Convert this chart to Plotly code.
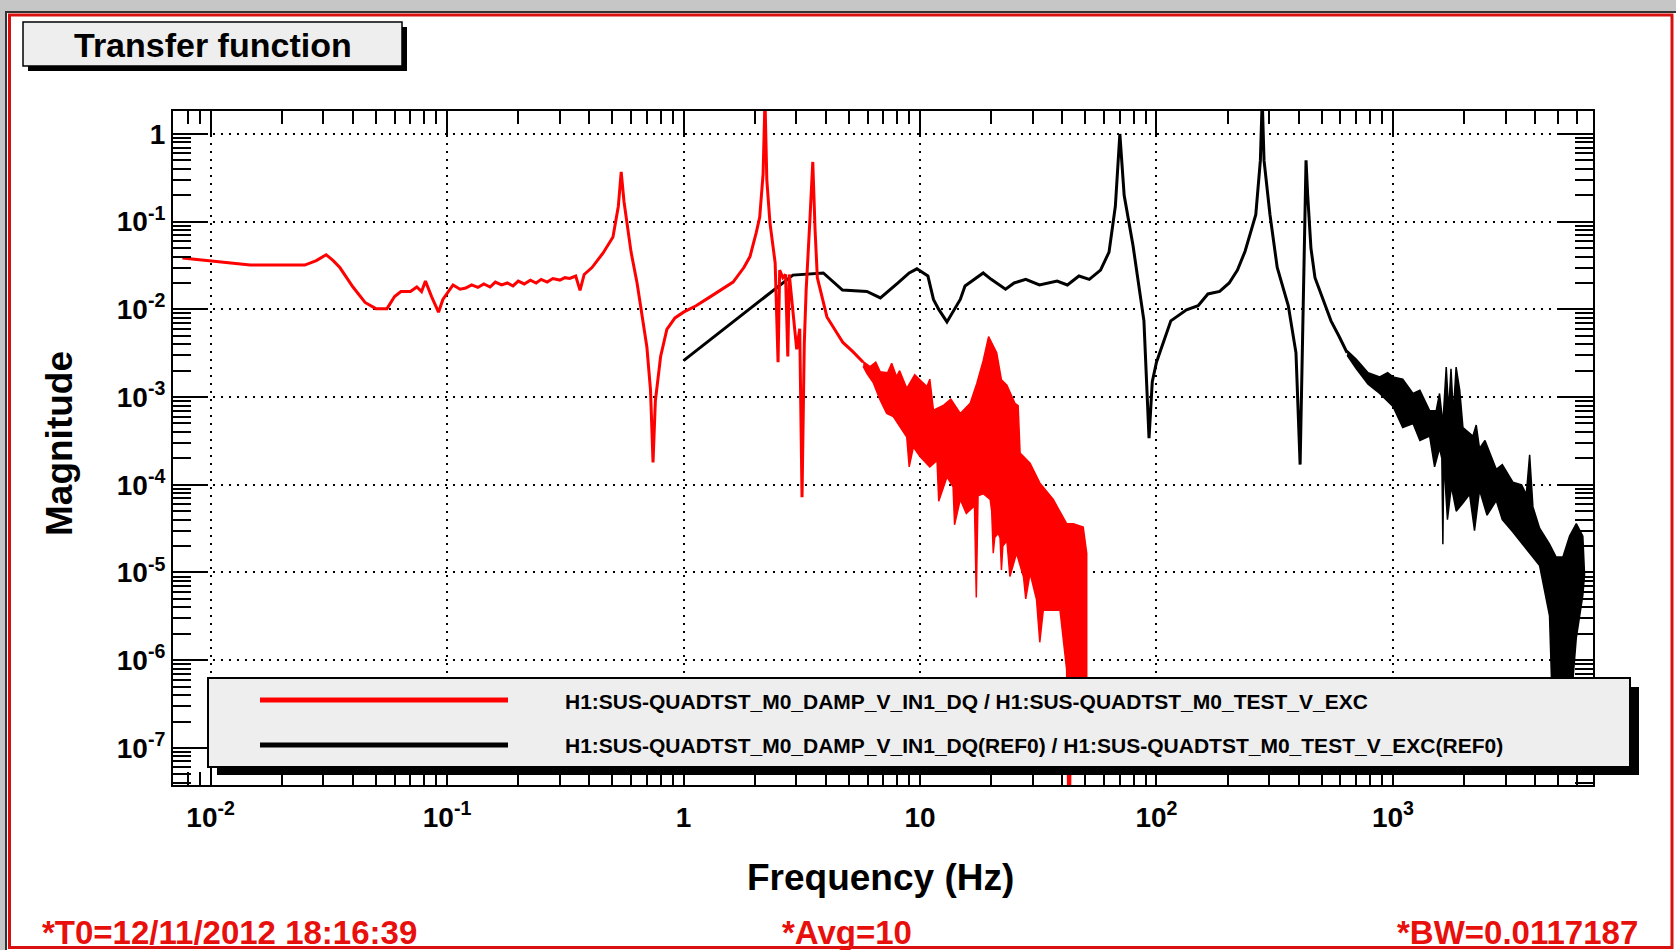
import plotly.graph_objects as go

# ---------------- data ----------------
red_freq = [0.0076, 0.0095, 0.012, 0.0147, 0.020, 0.025, 0.028, 0.0308, 0.033, 0.0352,
            0.040, 0.045, 0.050, 0.0557, 0.060, 0.0638, 0.070, 0.0745, 0.078, 0.081,
            0.086, 0.092, 0.096, 0.100, 0.106, 0.1135, 0.120, 0.127, 0.135, 0.143,
            0.152, 0.160, 0.170, 0.180, 0.190, 0.200, 0.212, 0.225, 0.238, 0.250,
            0.265, 0.280, 0.300, 0.315, 0.330, 0.350, 0.365, 0.380, 0.410, 0.457,
            0.503, 0.530, 0.545, 0.560, 0.577, 0.600, 0.636, 0.670, 0.700, 0.725,
            0.743, 0.760, 0.800, 0.850, 0.920, 1.00, 1.13, 1.29, 1.45, 1.62,
            1.80, 1.91, 2.03, 2.10, 2.17, 2.21, 2.25, 2.32, 2.44, 2.51,
            2.55, 2.63, 2.70, 2.76, 2.80, 2.90, 3.01, 3.10, 3.17, 3.24,
            3.30, 3.42, 3.52, 3.60, 3.68, 4.04, 4.72, 5.20, 5.75]
red_mag = [0.0385, 0.036, 0.034, 0.032, 0.032, 0.032, 0.036, 0.042, 0.036, 0.030,
           0.018, 0.012, 0.0102, 0.0102, 0.014, 0.016, 0.016, 0.018, 0.016, 0.021,
           0.014, 0.0093, 0.013, 0.015, 0.019, 0.017, 0.0175, 0.019, 0.0178, 0.0195,
           0.018, 0.0205, 0.019, 0.020, 0.0185, 0.021, 0.0195, 0.0215, 0.020, 0.022,
           0.0205, 0.0225, 0.0216, 0.023, 0.0225, 0.024, 0.0165, 0.025, 0.030, 0.044,
           0.067, 0.15, 0.37, 0.17, 0.097, 0.045, 0.020, 0.008, 0.0037, 0.0012,
           0.00018, 0.0009, 0.0029, 0.0059, 0.0080, 0.0093, 0.011, 0.0138, 0.017, 0.0205,
           0.030, 0.040, 0.075, 0.113, 0.35, 2.5, 0.30, 0.097, 0.034, 0.0025,
           0.028, 0.023, 0.025, 0.0029, 0.025, 0.010, 0.0035, 0.006, 0.000072, 0.004,
           0.0166, 0.10, 0.48, 0.08, 0.023, 0.0082, 0.0042, 0.0033, 0.0025]

# noisy red region: upper edge (low -> high f) and lower edge (high -> low f)
red_band_upper_freq = [5.75, 6.15, 6.5, 6.78, 7.3, 7.59, 7.96, 8.2, 8.79, 9.5,
                       10.0, 10.7, 11.0, 11.4, 12.6, 13.5, 14.8, 16.3, 17.4, 18.5,
                       19.5, 20.2, 21.1, 22.1, 23.3, 25.2, 26.0, 26.5, 29.2, 32.1,
                       36.6, 41.7, 44.5, 49.0, 50.7]
red_band_upper_mag = [2.54e-3, 2.22e-3, 2.5e-3, 1.95e-3, 1.9e-3, 2.43e-3, 1.71e-3, 2.0e-3, 1.26e-3, 1.8e-3,
                      1.57e-3, 1.32e-3, 1.6e-3, 7.1e-4, 8.1e-4, 9.5e-4, 6.5e-4, 8.5e-4, 1.44e-3, 2.6e-3,
                      4.9e-3, 4.0e-3, 3.2e-3, 1.57e-3, 1.37e-3, 8.5e-4, 8.0e-4, 2.3e-4, 1.76e-4, 1.05e-4,
                      6.8e-5, 3.6e-5, 3.6e-5, 3.3e-5, 1.66e-5]
red_band_lower_freq = [50.7, 48.0, 43.6, 43.1, 42.3, 41.7, 39.1, 33.2, 32.1, 31.1,
                       29.2, 28.0, 27.4, 25.6, 24.0, 23.3, 22.4, 22.1, 21.8, 21.4,
                       20.7, 20.4, 20.1, 19.8, 18.5, 17.6, 17.3, 17.0, 16.8, 15.7,
                       14.8, 14.0, 13.8, 13.0, 12.0, 11.8, 11.0, 10.0, 9.38, 9.0,
                       8.79, 8.22, 7.71, 7.23, 6.78, 6.35, 5.96, 5.75]
red_band_lower_mag = [2e-7, 2e-7, 2e-7, 1e-8, 1e-8, 7.8e-7, 3.7e-6, 3.7e-6, 1.6e-6, 4.9e-6,
                      9.8e-6, 5.0e-6, 8.9e-6, 1.66e-5, 9.0e-6, 2.3e-5, 2.0e-5, 1.07e-5, 2.5e-5, 2.8e-5,
                      2.5e-5, 1.66e-5, 5.0e-5, 6.8e-5, 7.9e-5, 7.5e-5, 5.2e-6, 5.6e-5, 5.6e-5, 4.7e-5,
                      6.8e-5, 3.5e-5, 9.5e-5, 1.23e-4, 6.5e-5, 1.9e-4, 1.6e-4, 2.1e-4, 2.7e-4, 1.6e-4,
                      3.5e-4, 4.6e-4, 6.0e-4, 6.5e-4, 9.3e-4, 1.45e-3, 1.86e-3, 2.24e-3]

black_freq = [1.0, 2.48, 2.9, 3.9, 4.7, 5.96, 6.8, 8.07, 9.0, 9.7,
              10.8, 11.4, 12.0, 13.0, 14.0, 14.8, 15.5, 17.0, 18.5, 20.0,
              23.0, 25.0, 28.0, 32.0, 38.0, 42.0, 47.0, 52.0, 58.0, 63.0,
              67.0, 70.0, 73.0, 79.6, 85.0, 88.5, 93.0, 96.0, 100, 115,
              134, 150, 165, 185, 203, 220, 237, 263, 275, 280,
              285, 302, 324, 361, 389, 405, 415, 429, 436, 450,
              468, 500, 547, 590, 640]
black_mag = [0.0026, 0.0175, 0.0246, 0.026, 0.0166, 0.016, 0.0135, 0.020, 0.026, 0.029,
             0.024, 0.013, 0.010, 0.0072, 0.010, 0.013, 0.0185, 0.022, 0.026, 0.022,
             0.017, 0.020, 0.022, 0.019, 0.021, 0.019, 0.024, 0.022, 0.028, 0.045,
             0.15, 1.0, 0.2, 0.053, 0.015, 0.0074, 0.00034, 0.0015, 0.0025, 0.0074,
             0.0099, 0.011, 0.015, 0.016, 0.020, 0.028, 0.046, 0.12, 0.5, 2.5,
             0.5, 0.12, 0.030, 0.011, 0.0032, 0.00017, 0.005, 0.5, 0.2, 0.05,
             0.023, 0.014, 0.0074, 0.0050, 0.0032]

black_band_upper_freq = [640, 700, 785, 879, 950, 1000, 1100, 1216, 1300, 1429,
                         1524, 1574, 1626, 1680, 1720, 1760, 1800, 1850, 1916, 1977,
                         2178, 2250, 2323, 2450, 2735, 2900, 3215, 3500, 3664, 3785,
                         3908, 4170, 4594, 4900, 5233, 5585, 5962, 6353, 6460]
black_band_upper_mag = [3.4e-3, 2.7e-3, 1.9e-3, 1.7e-3, 1.9e-3, 1.7e-3, 1.6e-3, 1.1e-3, 1.2e-3, 7.0e-4,
                        7.0e-4, 1.1e-3, 5.0e-4, 2.2e-3, 7.0e-4, 2.1e-3, 6.5e-4, 2.2e-3, 1.2e-3, 4.5e-4,
                        3.6e-4, 4.8e-4, 2.6e-4, 3.2e-4, 1.5e-4, 1.7e-4, 1.07e-4, 1.0e-4, 7.8e-5, 2.2e-4,
                        5.6e-5, 3.2e-5, 2.1e-5, 1.5e-5, 1.5e-5, 2.6e-5, 3.6e-5, 2.6e-5, 9.5e-6]
black_band_lower_freq = [6460, 6353, 5962, 5585, 4742, 4594, 4170, 3785, 3500, 3215,
                         2900, 2735, 2500, 2323, 2213, 2109, 1977, 1852, 1766, 1700,
                         1640, 1626, 1610, 1574, 1500, 1429, 1300, 1216, 1100, 1000,
                         879, 785, 700, 640]
black_band_lower_mag = [9.5e-6, 5.5e-6, 1.8e-6, 2e-7, 2e-7, 3.2e-6, 1.2e-5, 1.66e-5, 2.2e-5, 2.9e-5,
                        4.0e-5, 6.6e-5, 4.5e-5, 8.7e-5, 3.0e-5, 7.8e-5, 6.2e-5, 5.0e-5, 9.6e-5, 4.0e-5,
                        2.0e-4, 2.1e-5, 2.0e-4, 2.6e-4, 1.6e-4, 3.6e-4, 3.2e-4, 5.0e-4, 4.5e-4, 7.8e-4,
                        1.1e-3, 1.4e-3, 2.1e-3, 3.0e-3]

x_tick_vals = [0.01, 0.1, 1, 10, 100, 1000]
x_tick_text = ["10<sup>-2</sup>", "10<sup>-1</sup>", "1", "10", "10<sup>2</sup>", "10<sup>3</sup>"]
y_tick_vals = [1e-7, 1e-6, 1e-5, 1e-4, 1e-3, 1e-2, 1e-1, 1]
y_tick_text = ["10<sup>-7</sup>", "10<sup>-6</sup>", "10<sup>-5</sup>", "10<sup>-4</sup>",
               "10<sup>-3</sup>", "10<sup>-2</sup>", "10<sup>-1</sup>", "1"]

legend_labels = ["H1:SUS-QUADTST_M0_DAMP_V_IN1_DQ / H1:SUS-QUADTST_M0_TEST_V_EXC",
                 "H1:SUS-QUADTST_M0_DAMP_V_IN1_DQ(REF0) / H1:SUS-QUADTST_M0_TEST_V_EXC(REF0)"]
title_text = "Transfer function"
x_title = "Frequency (Hz)"
y_title = "Magnitude"
footer_left = "*T0=12/11/2012 18:16:39"
footer_mid = "*Avg=10"
footer_right = "*BW=0.0117187"

# ---------------- layout geometry (pixels) ----------------
W, H = 1676, 950
L, R, T, B = 173, 1593, 111, 785
RED = "#ff0000"
TXT_RED = "#e8100c"
FONT = "Liberation Sans"


def px(x):
    return (x - L) / (R - L)


def py(y):
    return (B - y) / (B - T)


def bold(s):
    return "<b>" + s + "</b>"


fig = go.Figure()

fig.add_trace(go.Scatter(x=black_freq, y=black_mag, mode="lines",
                         line=dict(color="black", width=3), showlegend=False, hoverinfo="skip"))
fig.add_trace(go.Scatter(x=black_band_upper_freq + black_band_lower_freq,
                         y=black_band_upper_mag + black_band_lower_mag,
                         mode="lines", fill="toself", fillcolor="black",
                         line=dict(color="black", width=1.5), showlegend=False, hoverinfo="skip"))
fig.add_trace(go.Scatter(x=red_freq, y=red_mag, mode="lines",
                         line=dict(color=RED, width=3), showlegend=False, hoverinfo="skip"))
fig.add_trace(go.Scatter(x=red_band_upper_freq + red_band_lower_freq,
                         y=red_band_upper_mag + red_band_lower_mag,
                         mode="lines", fill="toself", fillcolor=RED,
                         line=dict(color=RED, width=1.5), showlegend=False, hoverinfo="skip"))

axis_common = dict(
    type="log", showline=True, linewidth=2, linecolor="black", mirror="allticks",
    ticks="inside", tickwidth=2, tickcolor="black",
    tickmode="array",
    tickfont=dict(family=FONT, size=28, color="black"),
    showgrid=True, gridcolor="black", gridwidth=1.5, griddash="2px,6px",
    zeroline=False, fixedrange=True,
)

fig.update_xaxes(**axis_common, range=[-2.159, 3.846], ticklen=25,
                 tickvals=x_tick_vals, ticktext=[bold(t) for t in x_tick_text],
                 ticklabelstandoff=6,
                 minor=dict(ticks="inside", ticklen=13, tickwidth=1.5, tickcolor="black",
                            dtick="D1", showgrid=False))
fig.update_yaxes(**axis_common, range=[-7.423, 0.262], ticklen=35,
                 tickvals=y_tick_vals, ticktext=[bold(t) for t in y_tick_text],
                 minor=dict(ticks="inside", ticklen=18, tickwidth=1.5, tickcolor="black",
                            dtick="D1", showgrid=False))

shapes = []
# window frame
shapes.append(dict(type="rect", xref="paper", yref="paper", layer="below",
                   x0=px(0), x1=px(W), y0=py(0), y1=py(12),
                   fillcolor="#c6c6c6", line=dict(width=0)))
shapes.append(dict(type="rect", xref="paper", yref="paper", layer="below",
                   x0=px(0), x1=px(6), y0=py(0), y1=py(H),
                   fillcolor="#c6c6c6", line=dict(width=0)))
shapes.append(dict(type="rect", xref="paper", yref="paper", layer="below",
                   x0=px(6), x1=px(W + 5), y0=py(12), y1=py(H + 5),
                   fillcolor="rgba(0,0,0,0)", line=dict(color="#333333", width=2)))
shapes.append(dict(type="rect", xref="paper", yref="paper", layer="below",
                   x0=px(9.5), x1=px(1672), y0=py(15), y1=py(947.5),
                   fillcolor="rgba(0,0,0,0)", line=dict(color="#d81010", width=3)))
# title box
shapes.append(dict(type="rect", xref="paper", yref="paper", layer="above",
                   x0=px(28), x1=px(407), y0=py(27), y1=py(71),
                   fillcolor="black", line=dict(width=0)))
shapes.append(dict(type="rect", xref="paper", yref="paper", layer="above",
                   x0=px(23), x1=px(402), y0=py(22), y1=py(66),
                   fillcolor="#eeeeee", line=dict(color="black", width=1.5)))
# legend box
shapes.append(dict(type="rect", xref="paper", yref="paper", layer="above",
                   x0=px(217), x1=px(1639), y0=py(687), y1=py(775),
                   fillcolor="black", line=dict(width=0)))
shapes.append(dict(type="rect", xref="paper", yref="paper", layer="above",
                   x0=px(208), x1=px(1630), y0=py(678), y1=py(767),
                   fillcolor="#eeeeee", line=dict(color="black", width=2)))
shapes.append(dict(type="line", xref="paper", yref="paper", layer="above",
                   x0=px(260), x1=px(508), y0=py(700), y1=py(700),
                   line=dict(color=RED, width=5)))
shapes.append(dict(type="line", xref="paper", yref="paper", layer="above",
                   x0=px(260), x1=px(508), y0=py(745), y1=py(745),
                   line=dict(color="black", width=5)))

annotations = []


def ann(text, x, y, size, color="black", xanchor="center", angle=0):
    annotations.append(dict(text=bold(text), x=px(x), y=py(y), xref="paper", yref="paper",
                            xanchor=xanchor, yanchor="middle", showarrow=False,
                            textangle=angle,
                            font=dict(family=FONT, size=size, color=color)))


ann(title_text, 213, 45, 34)
ann(legend_labels[0], 563, 701, 21, xanchor="left")
ann(legend_labels[1], 563, 745, 21, xanchor="left")
ann(x_title, 880, 877, 37)
ann(y_title, 59, 444, 37, angle=-90)
ann(footer_left, 40, 932, 33, color=TXT_RED, xanchor="left")
ann(footer_mid, 847, 932, 33, color=TXT_RED)
ann(footer_right, 1640, 932, 33, color=TXT_RED, xanchor="right")

fig.update_layout(
    width=W, height=H, autosize=False,
    margin=dict(l=L, r=W - R, t=T, b=H - B, pad=0, autoexpand=False),
    paper_bgcolor="white", plot_bgcolor="white",
    showlegend=False,
    shapes=shapes, annotations=annotations,
    font=dict(family=FONT, size=28, color="black"),
)

fig.write_html("out.html", config={"displayModeBar": False},
               post_script="document.body.style.margin='0';")
